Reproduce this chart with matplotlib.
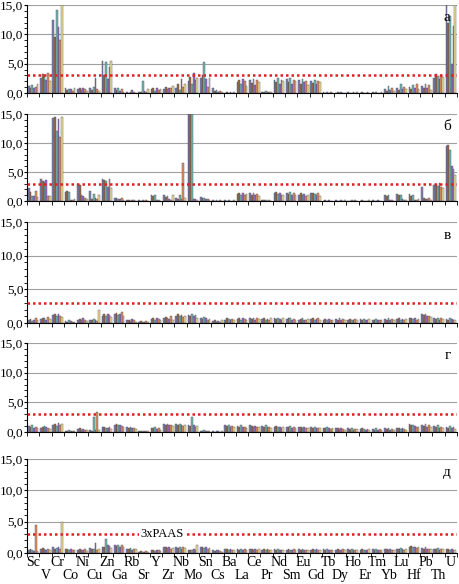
import numpy as np
import matplotlib.pyplot as plt
import matplotlib.transforms as mtransforms

plt.rcParams['font.family'] = ['Liberation Serif', 'DejaVu Serif']

elements = ['Sc', 'V', 'Cr', 'Co', 'Ni', 'Cu', 'Zn', 'Ga', 'Rb', 'Sr', 'Y', 'Zr',
            'Nb', 'Mo', 'Sn', 'Cs', 'Ba', 'La', 'Ce', 'Pr', 'Nd', 'Sm', 'Eu', 'Gd',
            'Tb', 'Dy', 'Ho', 'Er', 'Tm', 'Yb', 'Lu', 'Hf', 'Pb', 'Th', 'U']

# 6 samples per element, values normalised to PAAS
panel_a = [
    [1.2, 0.8, 1.4, 0.9, 1.1, 1.5], [2.6, 3.2, 2.9, 2.2, 3.4, 2.0],
    [12.5, 9.5, 14.2, 11.2, 9.0, 15.0], [0.8, 0.5, 0.7, 0.6, 0.4, 0.9],
    [0.7, 0.9, 0.5, 0.8, 0.6, 0.4], [0.8, 0.5, 1.0, 2.5, 0.6, 0.3],
    [5.5, 3.0, 5.2, 2.4, 4.4, 5.5], [0.9, 0.5, 0.8, 0.3, 0.6, 0.2],
    [0.1, 0.0, 0.2, 0.5, 0.1, 0.0], [0.2, 0.1, 2.0, 0.3, 0.1, 0.6],
    [0.6, 0.9, 0.4, 0.8, 0.5, 0.7], [0.7, 1.0, 0.6, 0.9, 0.8, 1.2],
    [0.8, 1.5, 0.5, 2.4, 1.0, 1.6], [2.0, 2.8, 1.5, 3.4, 2.2, 2.6],
    [2.5, 3.0, 5.3, 2.4, 1.0, 2.6], [0.9, 0.3, 0.5, 0.1, 0.4, 0.2],
    [0.0, 0.1, 0.0, 0.2, 0.0, 0.1], [1.8, 2.3, 1.5, 2.4, 2.0, 1.2],
    [2.2, 1.7, 2.4, 1.4, 2.3, 1.9], [0.2, 0.1, 0.3, 0.1, 0.2, 0.1],
    [2.3, 1.8, 2.5, 1.6, 2.2, 2.0], [2.4, 1.9, 2.5, 1.5, 2.3, 2.1],
    [2.2, 1.6, 2.4, 1.8, 2.0, 1.4], [2.1, 1.7, 2.3, 1.5, 2.0, 1.8],
    [0.1, 0.0, 0.1, 0.0, 0.1, 0.0], [0.0, 0.1, 0.0, 0.1, 0.0, 0.0],
    [0.1, 0.0, 0.0, 0.1, 0.0, 0.1], [0.0, 0.1, 0.0, 0.0, 0.1, 0.0],
    [0.1, 0.0, 0.1, 0.0, 0.0, 0.1], [0.6, 0.3, 1.2, 0.5, 0.8, 0.4],
    [0.9, 0.5, 1.6, 0.7, 1.1, 0.6], [1.0, 0.6, 1.3, 0.8, 1.5, 0.7],
    [1.2, 0.8, 1.6, 0.9, 1.4, 0.5], [2.6, 3.3, 2.9, 2.4, 3.1, 2.7],
    [15.0, 12.0, 13.2, 5.0, 11.5, 15.0],
]

panel_b = [
    [2.2, 1.5, 0.8, 0.9, 1.8, 0.7], [3.8, 3.5, 3.2, 3.7, 0.9, 0.8],
    [14.3, 14.5, 12.0, 14.2, 11.0, 14.4], [1.6, 1.8, 1.5, 0.2, 0.1, 0.3],
    [3.0, 2.8, 1.0, 0.8, 0.5, 0.3], [1.8, 0.4, 1.2, 0.5, 0.3, 1.0],
    [3.8, 3.7, 3.5, 2.5, 3.8, 2.2], [0.5, 0.6, 0.4, 0.3, 0.5, 0.2],
    [0.1, 0.1, 0.0, 0.2, 0.1, 0.0], [0.1, 0.0, 0.1, 0.0, 0.1, 0.0],
    [1.0, 0.8, 1.1, 0.2, 0.1, 0.0], [1.0, 0.7, 0.9, 0.3, 0.2, 1.1],
    [0.5, 0.3, 1.1, 0.4, 6.5, 0.6], [15.0, 15.0, 15.0, 0.4, 0.3, 0.2],
    [0.7, 0.5, 0.6, 0.3, 0.4, 0.2], [0.1, 0.0, 0.1, 0.0, 0.1, 0.0],
    [0.1, 0.0, 0.1, 0.0, 0.0, 0.1], [1.2, 1.4, 1.1, 1.3, 1.0, 1.2],
    [1.3, 1.1, 1.4, 1.0, 1.2, 0.9], [0.1, 0.2, 0.1, 0.0, 0.1, 0.0],
    [1.3, 1.5, 1.2, 1.4, 1.1, 1.0], [1.4, 1.2, 1.5, 1.1, 1.3, 1.0],
    [1.1, 1.3, 1.0, 1.2, 0.9, 1.1], [1.3, 1.4, 1.2, 1.0, 1.3, 0.9],
    [0.0, 0.1, 0.0, 0.1, 0.0, 0.0], [0.1, 0.0, 0.0, 0.1, 0.0, 0.1],
    [0.0, 0.0, 0.1, 0.0, 0.1, 0.0], [0.0, 0.1, 0.0, 0.0, 0.0, 0.1],
    [0.1, 0.0, 0.0, 0.1, 0.0, 0.0], [1.0, 0.8, 1.1, 0.2, 0.1, 0.0],
    [1.2, 1.0, 1.1, 0.3, 0.2, 0.1], [1.2, 0.9, 1.1, 0.2, 0.1, 0.3],
    [2.5, 0.5, 0.4, 0.3, 0.6, 0.2], [2.8, 3.0, 2.6, 3.1, 2.4, 2.2],
    [9.5, 9.7, 8.8, 6.0, 5.5, 4.5],
]

panel_c = [
    [0.4, 0.6, 0.3, 0.5, 0.7, 0.4], [0.6, 0.8, 0.7, 0.5, 0.9, 0.6],
    [1.2, 1.4, 1.1, 1.3, 1.0, 0.9], [0.3, 0.2, 0.4, 0.3, 0.2, 0.1],
    [0.5, 0.6, 0.4, 0.7, 0.5, 0.3], [0.4, 0.5, 0.6, 0.4, 0.3, 2.0],
    [1.1, 1.3, 1.0, 1.4, 1.2, 0.9], [1.3, 1.5, 1.2, 1.4, 1.6, 1.0],
    [0.4, 0.5, 0.3, 0.6, 0.4, 0.2], [0.2, 0.3, 0.1, 0.2, 0.3, 0.1],
    [0.6, 0.8, 0.5, 0.7, 0.6, 0.4], [0.7, 0.9, 0.8, 0.6, 1.0, 0.5],
    [1.1, 1.3, 1.0, 1.2, 0.9, 1.1], [1.2, 1.1, 1.3, 1.0, 1.2, 0.8],
    [0.8, 0.6, 0.9, 0.7, 0.5, 0.6], [0.3, 0.4, 0.2, 0.3, 0.2, 0.4],
    [0.5, 0.7, 0.6, 0.4, 0.6, 0.5], [0.6, 0.8, 0.5, 0.7, 0.6, 0.4],
    [0.7, 0.6, 0.8, 0.5, 0.7, 0.6], [0.6, 0.7, 0.5, 0.6, 0.5, 0.7],
    [0.7, 0.6, 0.8, 0.6, 0.5, 0.7], [0.6, 0.8, 0.7, 0.5, 0.6, 0.5],
    [0.5, 0.6, 0.7, 0.5, 0.4, 0.6], [0.6, 0.7, 0.5, 0.6, 0.8, 0.5],
    [0.5, 0.6, 0.4, 0.6, 0.5, 0.4], [0.6, 0.5, 0.7, 0.5, 0.6, 0.4],
    [0.5, 0.6, 0.5, 0.4, 0.6, 0.5], [0.6, 0.5, 0.6, 0.5, 0.4, 0.6],
    [0.5, 0.4, 0.6, 0.5, 0.5, 0.4], [0.6, 0.5, 0.7, 0.5, 0.6, 0.5],
    [0.6, 0.7, 0.5, 0.6, 0.5, 0.6], [0.7, 0.8, 0.6, 0.7, 0.5, 0.6],
    [1.3, 1.2, 1.4, 1.0, 1.1, 0.9], [0.7, 0.6, 0.8, 0.5, 0.7, 0.6],
    [0.6, 0.5, 0.7, 0.6, 0.4, 0.5],
]

panel_d = [
    [1.0, 0.8, 1.1, 0.7, 0.9, 0.6], [0.7, 0.9, 1.0, 0.8, 0.6, 0.5],
    [1.2, 1.4, 1.0, 1.5, 1.1, 1.3], [0.2, 0.1, 0.3, 0.2, 0.1, 0.2],
    [0.5, 0.6, 0.4, 0.5, 0.3, 0.4], [0.3, 0.2, 2.5, 0.3, 3.3, 0.3],
    [0.8, 0.9, 0.7, 0.6, 0.8, 0.5], [1.2, 1.3, 1.1, 1.2, 1.0, 0.9],
    [0.8, 0.7, 0.9, 0.6, 0.7, 0.5], [0.2, 0.1, 0.2, 0.1, 0.2, 0.1],
    [0.7, 0.6, 0.8, 0.5, 0.6, 0.4], [1.3, 1.2, 1.4, 1.1, 1.2, 1.0],
    [1.3, 1.2, 1.4, 1.1, 1.0, 1.2], [1.1, 1.0, 2.5, 1.2, 0.9, 1.0],
    [0.2, 0.1, 0.3, 0.1, 0.2, 0.1], [0.1, 0.0, 0.1, 0.1, 0.0, 0.1],
    [1.1, 1.0, 1.2, 0.9, 1.0, 0.8], [1.0, 0.9, 1.1, 0.8, 0.9, 0.7],
    [1.1, 1.0, 0.9, 1.0, 0.8, 0.9], [1.0, 0.9, 1.1, 0.8, 0.9, 0.7],
    [0.9, 1.0, 0.8, 0.9, 0.7, 0.8], [0.9, 0.8, 1.0, 0.7, 0.8, 0.7],
    [0.8, 0.9, 0.7, 0.8, 0.6, 0.7], [0.8, 0.7, 0.9, 0.6, 0.7, 0.6],
    [0.7, 0.6, 0.8, 0.6, 0.5, 0.6], [0.6, 0.7, 0.5, 0.6, 0.5, 0.4],
    [0.6, 0.5, 0.6, 0.4, 0.5, 0.5], [0.5, 0.6, 0.5, 0.4, 0.5, 0.4],
    [0.5, 0.4, 0.6, 0.4, 0.5, 0.3], [0.6, 0.5, 0.6, 0.4, 0.5, 0.4],
    [0.6, 0.7, 0.5, 0.6, 0.5, 0.4], [1.3, 1.1, 1.2, 1.0, 0.9, 0.8],
    [1.2, 1.0, 1.3, 0.9, 1.1, 0.8], [1.0, 0.8, 1.1, 0.7, 0.9, 0.6],
    [0.9, 0.7, 1.0, 0.6, 0.8, 0.5],
]

panel_e = [
    [0.5, 0.6, 0.4, 0.3, 4.5, 0.3], [0.7, 0.8, 0.6, 0.5, 0.7, 0.4],
    [0.9, 0.6, 0.8, 1.0, 0.7, 5.0], [0.6, 0.7, 0.5, 0.6, 0.4, 0.5],
    [0.5, 0.6, 0.4, 0.5, 0.6, 0.3], [0.8, 0.6, 0.6, 1.6, 0.5, 0.7],
    [1.0, 0.9, 2.2, 1.2, 1.1, 0.8], [1.2, 1.1, 1.3, 1.0, 1.2, 0.9],
    [0.7, 0.6, 0.8, 0.5, 0.7, 0.6], [0.2, 0.3, 0.1, 0.2, 0.3, 0.1],
    [0.4, 0.5, 0.3, 0.4, 0.5, 0.3], [0.9, 1.0, 0.8, 0.9, 0.7, 0.8],
    [0.9, 0.8, 1.0, 0.7, 0.9, 0.8], [0.5, 0.4, 0.4, 0.6, 0.5, 1.2],
    [0.9, 1.0, 0.8, 0.9, 0.7, 0.8], [0.4, 0.3, 0.5, 0.4, 0.3, 0.2],
    [0.6, 0.7, 0.5, 0.6, 0.4, 0.5], [0.6, 0.5, 0.7, 0.5, 0.6, 0.4],
    [0.6, 0.7, 0.5, 0.6, 0.5, 0.6], [0.5, 0.6, 0.4, 0.6, 0.5, 0.4],
    [0.6, 0.5, 0.6, 0.5, 0.4, 0.5], [0.5, 0.6, 0.5, 0.4, 0.6, 0.5],
    [0.6, 0.5, 0.7, 0.5, 0.5, 0.4], [0.5, 0.6, 0.5, 0.6, 0.4, 0.5],
    [0.6, 0.5, 0.6, 0.4, 0.5, 0.5], [0.5, 0.6, 0.4, 0.5, 0.6, 0.4],
    [0.6, 0.5, 0.6, 0.5, 0.4, 0.5], [0.5, 0.6, 0.5, 0.4, 0.5, 0.6],
    [0.6, 0.5, 0.6, 0.5, 0.5, 0.4], [0.6, 0.7, 0.5, 0.6, 0.5, 0.5],
    [0.7, 0.6, 0.8, 0.6, 0.5, 0.6], [1.0, 1.1, 0.9, 1.0, 0.8, 0.9],
    [0.8, 0.7, 0.9, 0.6, 0.7, 0.6], [0.7, 0.6, 0.8, 0.5, 0.6, 0.7],
    [0.6, 0.7, 0.5, 0.6, 0.5, 0.4],
]

panels = [panel_a, panel_b, panel_c, panel_d, panel_e]
panel_letters = ['а', 'б', 'в', 'г', 'д']
paas_level = 3.0

colors = ['#7f7fb0', '#9a6a40', '#70b8b0', '#9b6bc8', '#e8905a', '#f0e090']

# axes boxes in pixels (top, bottom) for a 459x584 figure
boxes = [(5, 93), (114, 201), (222, 323), (343, 432), (459, 553)]

fig = plt.figure(figsize=(4.59, 5.84), dpi=100)
n = len(elements)
x = np.arange(n)
n_samples = 6
w = 0.86 / n_samples

for k, data in enumerate(panels):
    top, bottom = boxes[k]
    ax = fig.add_axes([27 / 459, 1 - bottom / 584, 430 / 459, (bottom - top) / 584])
    vals = np.array(data)
    for j in range(n_samples):
        ax.bar(x - 0.43 + (j + 0.5) * w, vals[:, j], width=w, color=colors[j],
               edgecolor='#505060', linewidth=0.3, zorder=2)
    ax.axhline(paas_level, color='#e02020', linestyle=(0, (1, 1.2)), linewidth=1.8, zorder=3)
    ax.set_xlim(-0.5, n - 0.5)
    ax.set_ylim(0, 15)
    ax.set_yticks([0, 5, 10, 15])
    ax.set_yticklabels(['0,0', '5,0', '10,0', '15,0'], fontsize=9.5)
    ax.set_yticks(np.arange(0, 15.1, 1), minor=True)
    ax.yaxis.grid(True, color='#a0a0a0', linewidth=0.8, zorder=0)
    ax.tick_params(axis='y', which='major', length=2, pad=0.5)
    ax.tick_params(axis='y', which='minor', length=2)
    ax.set_xticks([])
    ax.set_xticks(np.arange(-0.5, n, 1), minor=True)
    ax.tick_params(axis='x', which='minor', length=3, direction='out')
    ax.spines['top'].set_visible(False)
    ax.spines['right'].set_visible(False)
    ax.text(0.985, 0.93, panel_letters[k], transform=ax.transAxes, ha='right', va='top',
            fontsize=11)

# element names in two staggered rows under the lowest panel
trans = mtransforms.blended_transform_factory(ax.transData, ax.transAxes)
for i, el in enumerate(elements):
    row_offset = -0.03 if i % 2 == 0 else -0.17
    ax.text(i, row_offset, el, transform=trans, ha='center', va='top', fontsize=10)

ax.text(10.5, paas_level, '3xPAAS', ha='center', va='center', fontsize=9,
        bbox=dict(facecolor='white', edgecolor='none', pad=1), zorder=4)

fig.savefig('out.png', dpi=100)
